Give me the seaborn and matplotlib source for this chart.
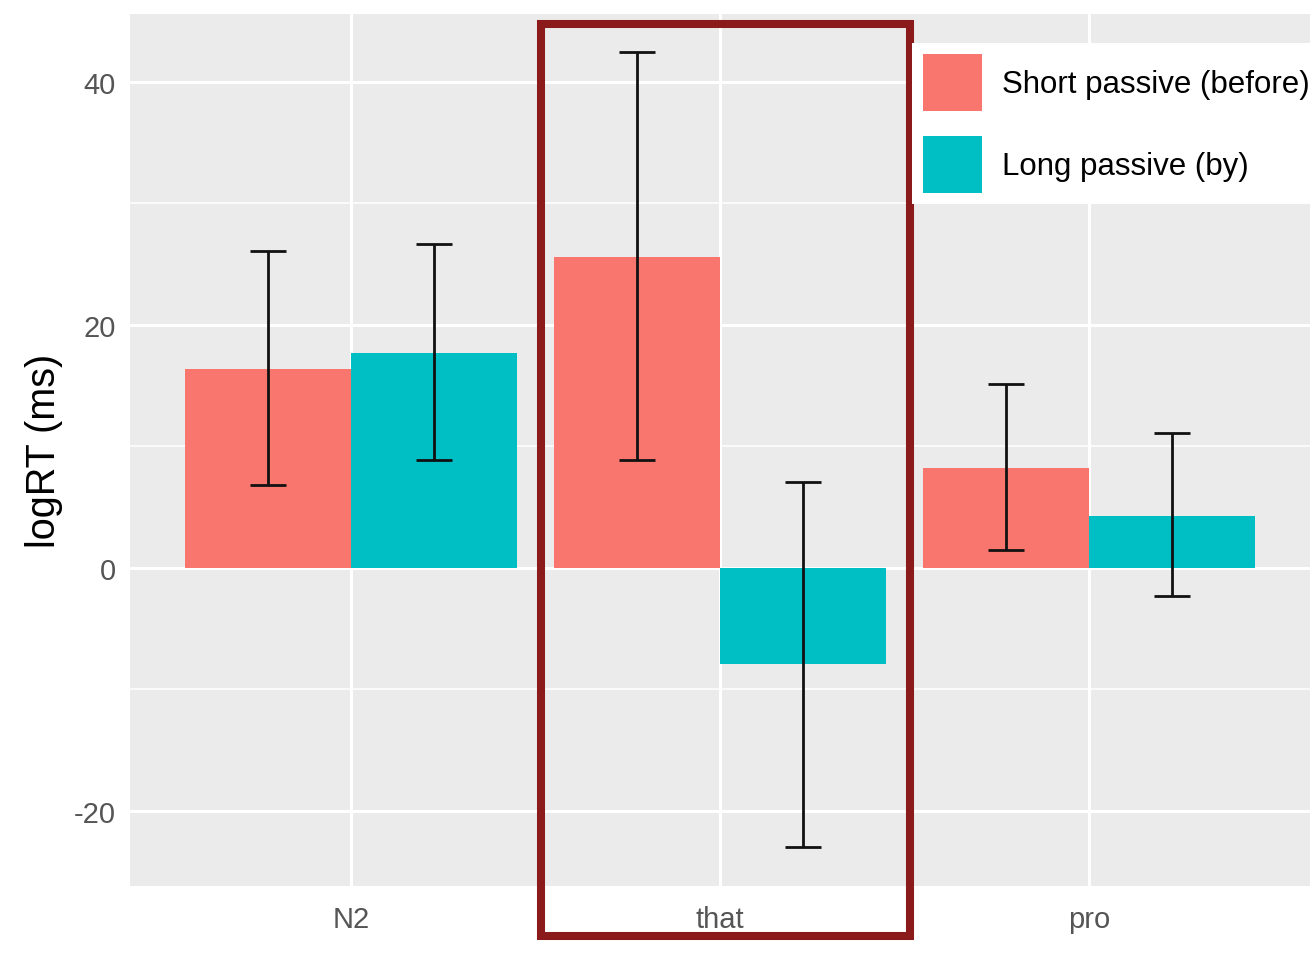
import matplotlib
matplotlib.use("Agg")
import matplotlib.pyplot as plt
import matplotlib.transforms as mtransforms
from matplotlib.patches import Rectangle, Patch
from matplotlib.ticker import MultipleLocator
import pandas as pd
import seaborn as sns

# values
regions = ["N2", "that", "pro"]
conditions = ["Short passive (before)", "Long passive (by)"]
short_mean = [16.4, 25.6, 8.2]
short_lo = [6.8, 8.9, 1.5]
short_hi = [26.1, 42.5, 15.1]
long_mean = [17.7, -7.9, 4.3]
long_lo = [8.9, -23.0, -2.3]
long_hi = [26.7, 7.1, 11.1]

colors = ["#F8766D", "#00BFC4"]

df = pd.DataFrame({
    "region": regions * 2,
    "condition": [conditions[0]] * 3 + [conditions[1]] * 3,
    "logRT": short_mean + long_mean,
    "lo": short_lo + long_lo,
    "hi": short_hi + long_hi,
})

sns.set_theme(style="darkgrid")
plt.rcParams["font.family"] = ["Liberation Sans", "DejaVu Sans"]
plt.rcParams["axes.unicode_minus"] = False

fig = plt.figure(figsize=(13.16, 9.54), dpi=100)
ax = fig.add_axes([130 / 1316, 1 - 887 / 954, 1180 / 1316, 872 / 954])
ax.set_facecolor("#EBEBEB")

sns.barplot(data=df, x="region", y="logRT", hue="condition", order=regions,
            hue_order=conditions, palette=colors, width=0.9, errorbar=None,
            saturation=1, linewidth=0, ax=ax, legend=False, zorder=2)

# error bars at the centre of each bar
for cond, cont in zip(conditions, ax.containers):
    sub = df[df["condition"] == cond].set_index("region").loc[regions]
    xs = [b.get_x() + b.get_width() / 2 for b in cont]
    ax.errorbar(xs, sub["logRT"], yerr=[sub["logRT"] - sub["lo"], sub["hi"] - sub["logRT"]],
                fmt="none", ecolor="#111111", elinewidth=2.0, capsize=13, capthick=2.0, zorder=3)

ax.set_xlim(-0.6, 2.6)
ax.set_ylim(-26.2, 45.6)
ax.yaxis.set_major_locator(MultipleLocator(20))
ax.yaxis.set_minor_locator(MultipleLocator(10))
ax.grid(which="major", color="white", linewidth=2.2)
ax.grid(which="minor", axis="y", color="white", linewidth=1.1)
ax.set_axisbelow(True)
for s in ax.spines.values():
    s.set_visible(False)

ax.tick_params(axis="both", which="major", length=6, width=1.5, color="#333333",
               labelsize=21, labelcolor="#555555")
ax.tick_params(axis="x", pad=8)
ax.tick_params(axis="y", pad=4)
ax.tick_params(axis="y", which="minor", length=0)
ax.set_xlabel("")
ax.set_ylabel("logRT (ms)", fontsize=28.5, color="black", labelpad=8)

# legend inside the panel, top right
handles = [Patch(facecolor=c, edgecolor="none") for c in colors]
leg = fig.legend(handles, conditions, loc="upper left", bbox_to_anchor=(912 / 1316, 1 - 44 / 954),
                 fontsize=22.5, frameon=True, fancybox=False, facecolor="white", edgecolor="none",
                 framealpha=1, handlelength=1.87, handleheight=2.4, labelspacing=0.82,
                 handletextpad=0.65, borderpad=0.36, borderaxespad=0)
for t in leg.get_texts():
    t.set_color("black")

# highlight box around the "that" region
trans = mtransforms.blended_transform_factory(ax.transData, ax.transAxes)
ax.add_patch(Rectangle((0.514, -0.057), 1.0, 1.046, transform=trans, fill=False,
                       edgecolor="#8B1A1A", linewidth=5.8, clip_on=False, zorder=10))

fig.savefig("out.png", dpi=100)
